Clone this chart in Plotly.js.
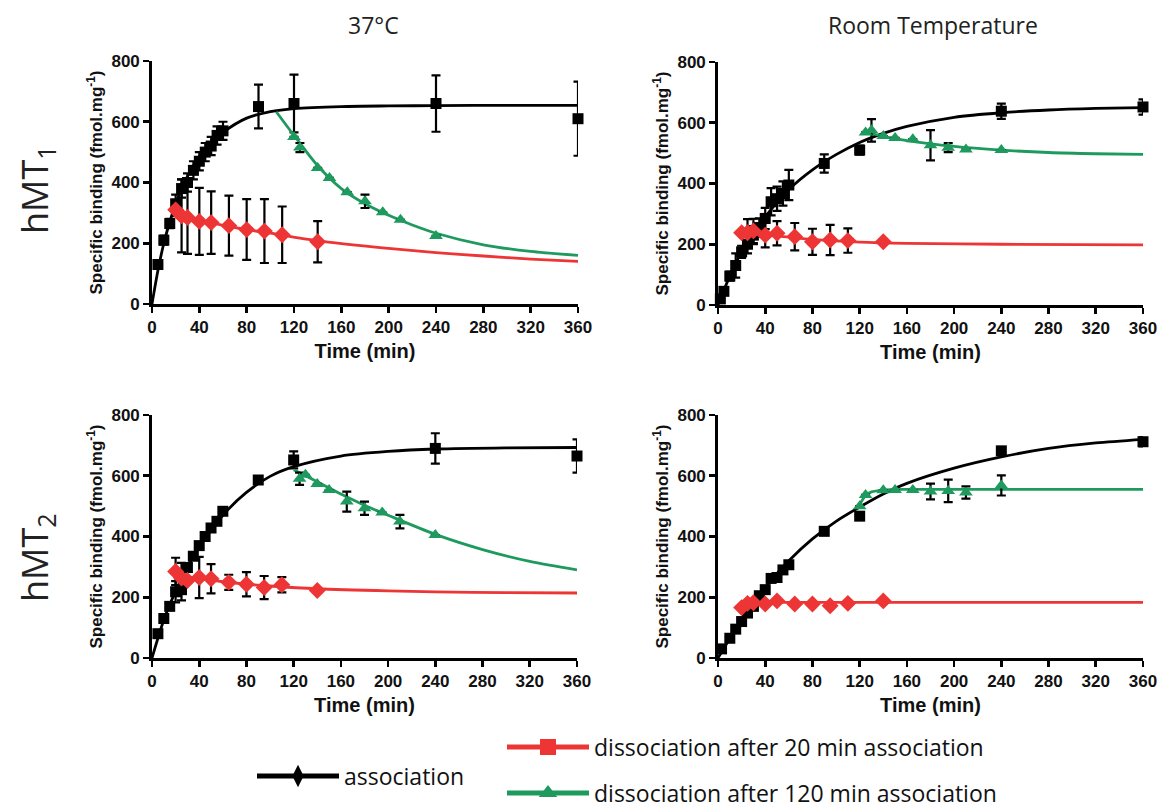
<!DOCTYPE html>
<html>
<head>
<meta charset="utf-8">
<script src="https://cdn.plot.ly/plotly-3.0.1.min.js"></script>
<style>html,body{margin:0;padding:0;background:#fff;}#chart{width:1164px;height:809px;}</style>
</head>
<body>
<div id="chart"></div>
<script>
// ---------- Panel 1: hMT1, 37°C ----------
const p1_assoc_t = [5,10,15,20,25,30,35,40,45,50,55,60,90,120,240,360];
const p1_assoc_y = [130,210,265,330,380,400,440,470,500,520,555,570,650,660,660,610];
const p1_assoc_e = [10,15,15,30,30,30,30,30,30,30,30,30,72,95,93,122];
const p1_d20_t = [20,25,30,40,50,65,80,95,110,140];
const p1_d20_y = [310,290,285,272,268,258,245,240,228,205];
const p1_d20_e = [20,120,120,110,103,99,100,105,93,68];
const p1_d120_t = [120,125,140,150,165,180,195,210,240];
const p1_d120_y = [550,515,448,415,368,338,302,277,224];
const p1_d120_e = [0,15,0,0,0,22,0,0,0];
const p1_fitA_t = [0,5,10,15,20,30,40,50,60,80,100,120,160,200,240,300,360];
const p1_fitA_y = [0,110,200,270,330,420,485,530,565,612,633,643,650,652,653,654,654];
const p1_fitD20_t = [17,20,40,60,80,100,140,200,240,280,320,360];
const p1_fitD20_y = [305,300,276,259,245,233,208,183,169,158,148,140];
const p1_fitD120_t = [105,120,140,160,180,200,220,240,280,320,360];
const p1_fitD120_y = [633,555,455,380,330,292,260,233,195,173,160];

// ---------- Panel 2: hMT1, Room Temperature ----------
const p2_assoc_t = [2,5,10,15,20,25,30,35,40,45,50,55,60,90,120,240,360];
const p2_assoc_y = [20,45,95,130,175,200,230,255,285,340,350,367,395,466,510,638,652];
const p2_assoc_e = [5,10,15,40,20,30,30,30,35,45,40,40,50,30,15,25,25];
const p2_d20_t = [20,25,30,40,50,65,80,95,110,140];
const p2_d20_y = [238,238,244,230,236,225,208,214,212,208];
const p2_d20_e = [0,45,40,40,40,45,43,50,40,0];
const p2_d120_t = [125,130,140,150,165,180,195,210,240];
const p2_d120_y = [568,575,556,550,546,526,518,512,510];
const p2_d120_e = [0,37,0,0,0,50,15,0,0];
const p2_fitA_t = [0,10,20,30,40,60,80,100,120,140,160,200,240,280,320,360];
const p2_fitA_y = [0,95,175,235,290,380,445,495,535,565,588,618,633,642,647,650];
const p2_fitD20_t = [18,40,80,120,160,240,360];
const p2_fitD20_y = [242,232,216,207,203,200,198];
const p2_fitD120_t = [123,140,160,200,240,280,320,360];
const p2_fitD120_y = [572,555,541,522,510,502,498,496];

// ---------- Panel 3: hMT2, 37°C ----------
const p3_assoc_t = [5,10,15,20,25,30,35,40,45,50,55,60,90,120,240,360];
const p3_assoc_y = [80,130,170,218,225,298,335,370,400,428,450,483,586,652,690,665];
const p3_assoc_e = [0,0,0,35,35,0,0,0,0,0,0,0,0,28,50,55];
const p3_d20_t = [20,25,30,40,50,65,80,95,110,140];
const p3_d20_y = [285,263,255,265,261,249,243,232,241,222];
const p3_d20_e = [45,50,0,68,48,25,40,38,25,0];
const p3_d120_t = [125,130,140,150,165,180,195,210,240];
const p3_d120_y = [590,603,573,553,515,493,479,449,405];
const p3_d120_e = [20,0,0,0,33,22,0,22,0];
const p3_fitA_t = [0,10,20,30,40,60,80,100,120,160,200,240,300,360];
const p3_fitA_y = [0,125,220,300,365,470,545,598,630,665,680,688,692,693];
const p3_fitD20_t = [17,20,40,60,80,100,140,200,240,300,360];
const p3_fitD20_y = [282,276,261,251,243,237,228,221,218,215,214];
const p3_fitD120_t = [120,140,160,180,200,240,280,320,360];
const p3_fitD120_y = [620,580,540,503,470,407,357,318,290];

// ---------- Panel 4: hMT2, Room Temperature ----------
const p4_assoc_t = [3,10,15,20,25,30,35,40,45,50,55,60,90,120,240,360];
const p4_assoc_y = [30,65,95,120,148,170,205,225,262,265,290,307,417,467,682,712];
const p4_assoc_e = [0,0,0,0,0,0,0,0,0,0,0,0,0,0,0,15];
const p4_d20_t = [20,25,30,40,50,65,80,95,110,140];
const p4_d20_y = [166,180,182,178,188,178,178,172,180,188];
const p4_d20_e = [0,0,0,0,0,0,0,0,0,0];
const p4_d120_t = [120,125,140,150,165,180,195,210,240];
const p4_d120_y = [500,537,552,553,553,548,550,545,568];
const p4_d120_e = [0,0,0,0,0,26,37,20,33];
const p4_fitA_t = [0,20,40,60,80,100,120,140,160,200,240,280,320,360];
const p4_fitA_y = [0,125,232,320,392,450,497,540,575,625,662,690,708,720];
const p4_fitD20_t = [18,25,30,40,80,140,200,360];
const p4_fitD20_y = [165,177,181,183,183,183,183,183];
const p4_fitD120_t = [120,125,130,140,160,200,360];
const p4_fitD120_y = [505,535,547,553,555,555,555];

// ---------- Labels ----------
const columnTitles = ["37°C", "Room Temperature"];
const rowTitles = ["hMT<sub>1</sub>", "hMT<sub>2</sub>"];
const xTitle = "Time (min)";
const yTitle = "Specific binding (fmol.mg<sup>-1</sup>)";
const seriesNames = ["association", "dissociation after 20 min association", "dissociation after 120 min association"];
const xTicks = [0,40,80,120,160,200,240,280,320,360];
const yTicks = [0,200,400,600,800];

const BLACK = "#000000", RED = "#EE3535", GREEN = "#1E9A5E";

const panels = [
  {ax:"", a:[p1_assoc_t,p1_assoc_y,p1_assoc_e], d20:[p1_d20_t,p1_d20_y,p1_d20_e], d120:[p1_d120_t,p1_d120_y,p1_d120_e],
   fA:[p1_fitA_t,p1_fitA_y], f20:[p1_fitD20_t,p1_fitD20_y], f120:[p1_fitD120_t,p1_fitD120_y]},
  {ax:"2", a:[p2_assoc_t,p2_assoc_y,p2_assoc_e], d20:[p2_d20_t,p2_d20_y,p2_d20_e], d120:[p2_d120_t,p2_d120_y,p2_d120_e],
   fA:[p2_fitA_t,p2_fitA_y], f20:[p2_fitD20_t,p2_fitD20_y], f120:[p2_fitD120_t,p2_fitD120_y]},
  {ax:"3", a:[p3_assoc_t,p3_assoc_y,p3_assoc_e], d20:[p3_d20_t,p3_d20_y,p3_d20_e], d120:[p3_d120_t,p3_d120_y,p3_d120_e],
   fA:[p3_fitA_t,p3_fitA_y], f20:[p3_fitD20_t,p3_fitD20_y], f120:[p3_fitD120_t,p3_fitD120_y]},
  {ax:"4", a:[p4_assoc_t,p4_assoc_y,p4_assoc_e], d20:[p4_d20_t,p4_d20_y,p4_d20_e], d120:[p4_d120_t,p4_d120_y,p4_d120_e],
   fA:[p4_fitA_t,p4_fitA_y], f20:[p4_fitD20_t,p4_fitD20_y], f120:[p4_fitD120_t,p4_fitD120_y]}
];

const traces = [];
function errBar(arr){ return {type:"data", array:arr, visible:true, color:"#000", thickness:2.2, width:4.5}; }
panels.forEach(p => {
  const xa = "x"+p.ax, ya = "y"+p.ax;
  const fitLine = (d,c) => ({x:d[0], y:d[1], xaxis:xa, yaxis:ya, mode:"lines", type:"scatter",
    line:{color:c, width:2.8, shape:"spline", smoothing:0.8}, showlegend:false, hoverinfo:"skip", cliponaxis:false});
  const pts = (d,c,sym,sz) => ({x:d[0], y:d[1], xaxis:xa, yaxis:ya, mode:"markers", type:"scatter",
    marker:{color:c, symbol:sym, size:sz}, error_y:errBar(d[2]), showlegend:false, cliponaxis:false});
  traces.push(fitLine(p.fA, BLACK));
  traces.push(pts(p.a, BLACK, "square", 11));
  traces.push(fitLine(p.f20, RED));
  traces.push(pts(p.d20, RED, "diamond", 13));
  traces.push(fitLine(p.f120, GREEN));
  traces.push(pts(p.d120, GREEN, "triangle-up", 12));
});

// legend-only entries (styled like the original key)
traces.push({x:[null], y:[null], mode:"lines+markers", type:"scatter", name:seriesNames[0], legend:"legend",
  line:{color:BLACK, width:5}, marker:{color:BLACK, symbol:"diamond-tall", size:16}});
traces.push({x:[null], y:[null], mode:"lines+markers", type:"scatter", name:seriesNames[1], legend:"legend2",
  line:{color:RED, width:5}, marker:{color:RED, symbol:"square", size:16}});
traces.push({x:[null], y:[null], mode:"lines+markers", type:"scatter", name:seriesNames[2], legend:"legend3",
  line:{color:GREEN, width:5}, marker:{color:GREEN, symbol:"triangle-up", size:16}});

const W = 1164, H = 809;
const tickFont = {family:"Liberation Sans, Arial, sans-serif", size:17, color:"#111", weight:"bold"};
function xAxis(x0,x1,anchor){
  return {domain:[x0/W, x1/W], anchor:anchor, range:[0,360], tickvals:xTicks, showgrid:false, zeroline:false,
    showline:true, linecolor:"#000", linewidth:2.8, ticks:"outside", ticklen:6, tickwidth:2.6, tickcolor:"#000",
    tickfont:tickFont, fixedrange:true,
    title:{text:xTitle, font:{family:"Liberation Sans, Arial, sans-serif", size:20, color:"#111", weight:"bold"}, standoff:8}};
}
function yAxis(y0,y1,anchor){
  return {domain:[1-y1/H, 1-y0/H], anchor:anchor, range:[0,800], tickvals:yTicks, showgrid:false, zeroline:false,
    showline:true, linecolor:"#000", linewidth:2.8, ticks:"outside", ticklen:6, tickwidth:2.6, tickcolor:"#000",
    tickfont:tickFont, fixedrange:true,
    title:{text:yTitle, font:{family:"Liberation Sans Narrow, Liberation Sans, Arial, sans-serif", size:17, color:"#111", weight:"bold"}, standoff:5}};
}

const legendFont = {family:"Open Sans, sans-serif", size:23, color:"#111"};
const layout = {
  width:W, height:H, margin:{l:0,r:0,t:0,b:0,autoexpand:false}, paper_bgcolor:"#fff", plot_bgcolor:"#fff",
  xaxis: xAxis(152,578,"y"),  yaxis: yAxis(61,304,"x"),
  xaxis2: xAxis(718,1143,"y2"), yaxis2: yAxis(62,305,"x2"),
  xaxis3: xAxis(152,577,"y3"), yaxis3: yAxis(415,658,"x3"),
  xaxis4: xAxis(718,1143,"y4"), yaxis4: yAxis(415,658,"x4"),
  legend:{x:252/W, y:1-776/H, xanchor:"left", yanchor:"middle", font:legendFont, bgcolor:"rgba(0,0,0,0)", itemwidth:82},
  legend2:{x:502/W, y:1-747/H, xanchor:"left", yanchor:"middle", font:legendFont, bgcolor:"rgba(0,0,0,0)", itemwidth:82},
  legend3:{x:502/W, y:1-793/H, xanchor:"left", yanchor:"middle", font:legendFont, bgcolor:"rgba(0,0,0,0)", itemwidth:82},
  annotations:[
    {text:columnTitles[0], x:373/W, y:1-25/H, xref:"paper", yref:"paper", showarrow:false, xanchor:"center", yanchor:"middle",
     font:{family:"Open Sans, sans-serif", size:23, color:"#222"}},
    {text:columnTitles[1], x:933/W, y:1-25/H, xref:"paper", yref:"paper", showarrow:false, xanchor:"center", yanchor:"middle",
     font:{family:"Open Sans, sans-serif", size:23, color:"#222"}},
    {text:rowTitles[0], x:36/W, y:1-190/H, xref:"paper", yref:"paper", showarrow:false, textangle:-90, xanchor:"center", yanchor:"middle",
     font:{family:"Open Sans, sans-serif", size:36, color:"#222"}},
    {text:rowTitles[1], x:36/W, y:1-558/H, xref:"paper", yref:"paper", showarrow:false, textangle:-90, xanchor:"center", yanchor:"middle",
     font:{family:"Open Sans, sans-serif", size:36, color:"#222"}}
  ]
};

Plotly.newPlot("chart", traces, layout, {displayModeBar:false, staticPlot:true});
</script>
</body>
</html>
